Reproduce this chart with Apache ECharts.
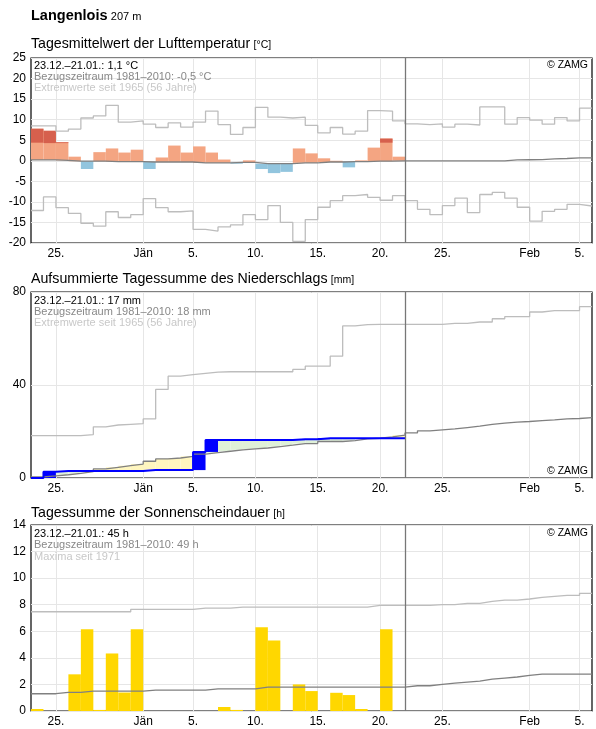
<!DOCTYPE html>
<html>
<head>
<meta charset="utf-8">
<script src="https://cdn.jsdelivr.net/npm/echarts@6/dist/echarts.min.js"></script>
<style>
html, body { margin: 0; padding: 0; background: #fff; }
#chart { width: 596px; height: 729px; }
</style>
</head>
<body>
<div id="chart"></div>
<script>
// Tage ab 23.12. (Index 0) bis 06.02. (Index 44), Messwerte bis 21.01. (Index 29)
const tickDays = [2, 9, 13, 18, 23, 28, 33, 40, 44];
const tickLabels = ['25.', 'Jän', '5.', '10.', '15.', '20.', '25.', 'Feb', '5.'];
const todayDay = 30;

// Lufttemperatur [°C]
const tempValue = [7.8, 7.3, 4.5, 1.0, -2.0, 2.1, 3.0, 2.0, 2.7, -2.0, 0.8, 3.7, 2.0, 3.5, 2.0,
  0.3, -0.7, 0.1, -2.0, -3.0, -2.7, 3.0, 1.8, 0.6, 0.0, -1.6, 0.1, 3.2, 5.4, 1.0];
const tempP90 = [4.4, 4.3, 4.3, null, null, null, null, null, null, null, null, null, null, null, null,
  null, null, null, null, null, null, null, null, null, null, null, null, null, 4.4, null];
const tempMean = [0.2, 0.2, 0.1, -0.1, -0.1, -0.1, -0.2, -0.2, -0.2, -0.3, -0.3, -0.3, -0.3, -0.5, -0.5,
  -0.5, -0.4, -0.4, -0.7, -0.7, -0.7, -0.5, -0.5, -0.3, -0.3, -0.2, -0.2, -0.1, -0.1, 0.0,
  0.0, 0.0, 0.0, 0.0, 0.0, 0.0, 0.0, 0.0, 0.2, 0.25, 0.3, 0.45, 0.55, 0.7, 0.7];
const tempMax = [8.5, 8.5, 7.2, 7.7, 10.4, 10.9, 13.5, 9.4, 9.7, 8.9, 8.1, 9.2, 8.2, 9.4, 12.1,
  8.8, 6.4, 8.1, 13.0, 10.6, 10.4, 10.6, 8.6, 6.8, 8.1, 6.5, 7.2, 12.2, 12.1, 9.7,
  9.0, 8.8, 9.0, 8.2, 8.9, 8.7, 13.1, 13.1, 8.9, 10.5, 9.9, 8.9, 10.5, 9.7, 12.8];
const tempMin = [-12.1, -8.8, -11.4, -12.8, -15.2, -15.9, -12.4, -13.8, -13.1, -9.2, -11.4, -12.4, -12.2, -16.7, -17.1,
  -16.1, -15.6, -13.1, -14.3, -10.9, -15.0, -19.6, -14.3, -11.3, -9.7, -8.5, -8.2, -8.9, -9.6, -8.5,
  -9.7, -11.8, -13.1, -10.9, -9.1, -12.6, -8.2, -7.7, -9.1, -11.3, -14.7, -12.3, -11.8, -10.6, -11.0];

// Niederschlag aufsummiert [mm]
const precipSum = [0, 2.7, 3.0, 3.0, 3.0, 3.0, 3.0, 3.0, 3.0, 3.4, 3.4, 3.4, 3.4, 11.2, 16.3,
  16.3, 16.3, 16.3, 16.3, 16.3, 16.3, 16.7, 16.7, 17.1, 17.1, 17.1, 17.1, 17.1, 17.1, 17.1];
const precipMean = [0.5, 0.9, 1.4, 2.0, 2.7, 3.9, 4.6, 5.3, 6.0, 7.2, 8.2, 8.6, 9.3, 10.3, 10.9,
  11.5, 12.1, 12.5, 12.9, 13.5, 14.1, 14.8, 14.8, 15.7, 15.7, 16.1, 16.8, 17.1, 17.7, 18.4,
  19.4, 20.3, 20.7, 21.1, 21.7, 22.3, 23.1, 23.6, 24.0, 24.3, 24.7, 25.0, 25.4, 25.6, 26.0];
const precipMax = [18.2, 18.2, 18.2, 18.2, 18.7, 22.0, 22.8, 23.1, 23.4, 25.4, 38.1, 43.8, 44.5, 45.0, 45.5,
  45.7, 45.7, 45.7, 45.7, 45.7, 45.7, 46.7, 48.1, 48.1, 52.4, 65.4, 66.0, 66.1, 66.1, 66.1,
  66.1, 66.1, 66.1, 66.5, 66.5, 67.1, 67.1, 68.5, 69.4, 69.4, 71.4, 72.0, 72.0, 72.0, 73.7];

// Sonnenscheindauer [h]
const sunHours = [0.15, 0, 0, 2.76, 6.15, 0.08, 4.33, 1.39, 6.15, 0, 0, 0, 0, 0, 0,
  0.3, 0.08, 0, 6.3, 5.3, 0, 2.0, 1.5, 0, 1.37, 1.2, 0.15, 0, 6.15, 0];
const sunMean = [1.3, 1.3, 1.4, 1.4, 1.5, 1.5, 1.5, 1.5, 1.5, 1.57, 1.57, 1.57, 1.57, 1.57, 1.67,
  1.67, 1.67, 1.67, 1.8, 1.8, 1.8, 1.8, 1.8, 1.8, 1.8, 1.8, 1.8, 1.8, 1.8, 1.8,
  1.9, 1.9, 2.0, 2.1, 2.18, 2.25, 2.4, 2.48, 2.56, 2.68, 2.78, 2.78, 2.78, 2.78, 2.78];
const sunMax = [7.47, 7.47, 7.47, 7.47, 7.47, 7.47, 7.47, 7.47, 7.65, 7.65, 7.65, 7.65, 7.65, 7.75, 7.75,
  7.75, 7.82, 7.82, 7.82, 7.82, 7.82, 7.82, 7.82, 7.82, 7.82, 7.82, 7.82, 7.95, 7.95, 7.95,
  7.95, 7.95, 8.0, 8.0, 8.1, 8.1, 8.25, 8.35, 8.35, 8.43, 8.56, 8.63, 8.7, 8.7, 8.86];

const FONT = 'Arial, "Liberation Sans", sans-serif';
const GRID_COLOR = '#e6e6e6';
const MEAN_COLOR = '#808080';
const EXT_COLOR = '#bdbdbd';

const grids = [
  { left: 31, top: 58, width: 561, height: 185 },
  { left: 31, top: 292, width: 561, height: 186 },
  { left: 31, top: 525, width: 561, height: 186 }
];

// Tageswerte als Treppenlinie: Wert i gilt von Tag i bis i+1
function steps(arr) {
  const d = arr.map((v, i) => [i, v]);
  d.push([arr.length, arr[arr.length - 1]]);
  return d;
}

function xAxis(idx) {
  return {
    type: 'value', gridIndex: idx, min: 0, max: 45,
    axisLine: { show: false },
    axisTick: { show: false, customValues: tickDays },
    axisLabel: {
      customValues: tickDays, color: '#000', fontSize: 12, fontFamily: FONT, margin: 5,
      formatter: v => tickLabels[tickDays.indexOf(v)]
    },
    splitLine: { show: true, lineStyle: { color: GRID_COLOR, width: 1 } }
  };
}

function yAxis(idx, min, max, interval) {
  return {
    type: 'value', gridIndex: idx, min: min, max: max, interval: interval,
    axisLine: { show: false },
    axisTick: { show: false },
    axisLabel: { color: '#000', fontSize: 12, fontFamily: FONT, margin: 5 },
    splitLine: { show: true, lineStyle: { color: GRID_COLOR, width: 1 } }
  };
}

function stepLine(idx, arr, color, width, withToday) {
  const s = {
    type: 'line', xAxisIndex: idx, yAxisIndex: idx, step: 'end',
    data: steps(arr), showSymbol: false, symbol: 'none', silent: true, z: 3,
    lineStyle: { color: color, width: width }
  };
  if (withToday) {
    s.markLine = {
      silent: true, symbol: ['none', 'none'], label: { show: false },
      lineStyle: { color: '#777', width: 1.3, type: 'solid' },
      data: [{ xAxis: todayDay }]
    };
  }
  return s;
}

const tempBars = {
  type: 'custom', xAxisIndex: 0, yAxisIndex: 0, z: 2, silent: true,
  data: tempValue.map((v, i) => [i, v]),
  encode: { x: 0, y: 1 },
  renderItem(params, api) {
    const i = params.dataIndex;
    const v = tempValue[i], m = tempMean[i], t = tempP90[i];
    const x0 = api.coord([i, m])[0], x1 = api.coord([i + 1, m])[0];
    const ym = api.coord([i, m])[1], yv = api.coord([i, v])[1];
    const children = [{
      type: 'rect',
      shape: { x: x0, y: Math.min(ym, yv), width: x1 - x0, height: Math.abs(yv - ym) },
      style: { fill: v >= m ? '#f4a582' : '#92c5de' }
    }];
    if (t != null && v > t) {
      const yt = api.coord([i, t])[1];
      children.push({
        type: 'rect',
        shape: { x: x0, y: yv, width: x1 - x0, height: yt - yv },
        style: { fill: '#d6604d' }
      });
    }
    return { type: 'group', children: children };
  }
};

const precipFill = {
  type: 'custom', xAxisIndex: 1, yAxisIndex: 1, z: 2, silent: true,
  data: precipSum.map((v, i) => [i, v]),
  encode: { x: 0, y: 1 },
  renderItem(params, api) {
    const i = params.dataIndex;
    const c = precipSum[i], p = i > 0 ? precipSum[i - 1] : 0, m = precipMean[i];
    const x0 = api.coord([i, 0])[0], x1 = api.coord([i + 1, 0])[0];
    const yc = api.coord([i, c])[1], ym = api.coord([i, m])[1], yp = api.coord([i, p])[1];
    const children = [{
      type: 'rect',
      shape: { x: x0, y: Math.min(yc, ym), width: x1 - x0, height: Math.abs(yc - ym) },
      style: { fill: c > m ? '#dff1d8' : '#fff6bf' }
    }];
    if (c > p) {
      children.push({
        type: 'rect',
        shape: { x: x0, y: yc, width: x1 - x0, height: yp - yc },
        style: { fill: '#0000ff' }
      });
    }
    return { type: 'group', children: children };
  }
};

const sunBars = {
  type: 'custom', xAxisIndex: 2, yAxisIndex: 2, z: 2, silent: true,
  data: sunHours.map((v, i) => [i, v]),
  encode: { x: 0, y: 1 },
  renderItem(params, api) {
    const i = params.dataIndex;
    const h = sunHours[i];
    if (!h) return null;
    const p0 = api.coord([i, 0]), p1 = api.coord([i + 1, h]);
    return {
      type: 'rect',
      shape: { x: p0[0], y: p1[1], width: p1[0] - p0[0], height: p0[1] - p1[1] },
      style: { fill: '#ffd700' }
    };
  }
};

function txt(left, top, text, size, color, weight) {
  return {
    type: 'text', left: left, top: top, silent: true, z: 10,
    style: { text: text, font: (weight || 'normal') + ' ' + size + 'px ' + FONT, fill: color }
  };
}

function richTitle(top, main, unit) {
  return {
    type: 'text', left: 31, top: top, silent: true, z: 10,
    style: {
      text: '{a|' + main + '} {b|' + unit + '}',
      rich: {
        a: { fontSize: 14.2, fontFamily: FONT, fill: '#000' },
        b: { fontSize: 10.5, fontFamily: FONT, fill: '#000', padding: [3, 0, 0, 0] }
      }
    }
  };
}

function legend(top, l1, l2, l3) {
  return [
    txt(34, top, l1, 11, '#000'),
    txt(34, top + 11.3, l2, 11, '#888'),
    txt(34, top + 22.6, l3, 11, '#c8c8c8')
  ];
}

function zamg(top) {
  return {
    type: 'text', right: 8, top: top, silent: true, z: 10,
    style: { text: '© ZAMG', font: '10.5px ' + FONT, fill: '#000' }
  };
}

const graphics = [
  {
    type: 'text', left: 31, top: 8, silent: true, z: 10,
    style: {
      text: '{a|Langenlois} {b|207 m}',
      rich: {
        a: { fontSize: 14.5, fontWeight: 'bold', fontFamily: FONT, fill: '#000' },
        b: { fontSize: 11, fontFamily: FONT, fill: '#000', padding: [2, 0, 0, 0] }
      }
    }
  },
  richTitle(37, 'Tagesmittelwert der Lufttemperatur', '[°C]'),
  richTitle(272, 'Aufsummierte Tagessumme des Niederschlags', '[mm]'),
  richTitle(506, 'Tagessumme der Sonnenscheindauer', '[h]'),
  ...legend(60, '23.12.–21.01.: 1,1 °C', 'Bezugszeitraum 1981–2010: -0,5 °C', 'Extremwerte seit 1965 (56 Jahre)'),
  ...legend(295, '23.12.–21.01.: 17 mm', 'Bezugszeitraum 1981–2010: 18 mm', 'Extremwerte seit 1965 (56 Jahre)'),
  ...legend(528.5, '23.12.–21.01.: 45 h', 'Bezugszeitraum 1981–2010: 49 h', 'Maxima seit 1971'),
  zamg(60),
  zamg(466),
  zamg(528)
];

const chart = echarts.init(document.getElementById('chart'));
chart.setOption({
  animation: false,
  backgroundColor: '#fff',
  textStyle: { fontFamily: FONT },
  grid: grids.map(g => Object.assign({ show: true, borderColor: '#000', borderWidth: 1.2, backgroundColor: 'transparent' }, g)),
  xAxis: [xAxis(0), xAxis(1), xAxis(2)],
  yAxis: [yAxis(0, -20, 25, 5), yAxis(1, 0, 80, 40), yAxis(2, 0, 14, 2)],
  graphic: graphics,
  series: [
    tempBars,
    stepLine(0, tempMax, EXT_COLOR, 1.3),
    stepLine(0, tempMin, EXT_COLOR, 1.3),
    stepLine(0, tempMean, MEAN_COLOR, 1.3, true),
    precipFill,
    stepLine(1, precipMax, EXT_COLOR, 1.3),
    stepLine(1, precipMean, MEAN_COLOR, 1.3, true),
    stepLine(1, precipSum, '#0000ff', 2),
    sunBars,
    stepLine(2, sunMax, EXT_COLOR, 1.3),
    stepLine(2, sunMean, MEAN_COLOR, 1.3, true)
  ]
});
window.addEventListener('resize', () => chart.resize());
</script>
</body>
</html>
